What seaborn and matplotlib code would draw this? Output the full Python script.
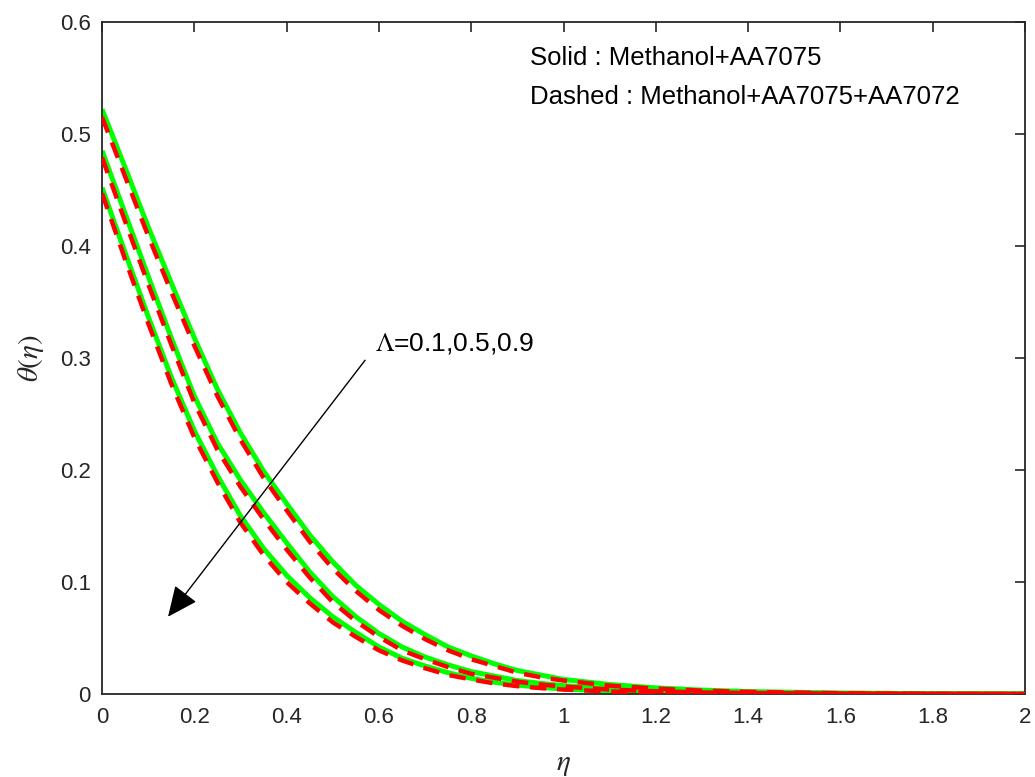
import numpy as np
import pandas as pd
import matplotlib
matplotlib.use("Agg")
import matplotlib.pyplot as plt
import seaborn as sns

eta = [0, 0.05, 0.1, 0.15, 0.2, 0.25, 0.3, 0.35, 0.4, 0.45, 0.5, 0.55, 0.6, 0.65,
       0.7, 0.75, 0.8, 0.85, 0.9, 0.95, 1.0, 1.1, 1.2, 1.3, 1.4, 1.6, 1.8, 2.0]

# Solid: Methanol+AA7075, Lambda = 0.1, 0.5, 0.9
solid_L01 = [0.522, 0.470, 0.417, 0.367, 0.318, 0.272, 0.233, 0.199, 0.170, 0.142, 0.118,
             0.097, 0.080, 0.065, 0.053, 0.042, 0.034, 0.027, 0.021, 0.017, 0.013, 0.0085,
             0.0055, 0.0035, 0.0022, 0.0009, 0.0003, 0.0]
solid_L05 = [0.485, 0.429, 0.373, 0.318, 0.266, 0.224, 0.191, 0.162, 0.135, 0.109, 0.087,
             0.069, 0.054, 0.042, 0.033, 0.026, 0.020, 0.016, 0.012, 0.0095, 0.0075, 0.0045,
             0.0027, 0.0016, 0.001, 0.0004, 0.0001, 0.0]
solid_L09 = [0.452, 0.394, 0.337, 0.283, 0.235, 0.195, 0.159, 0.130, 0.106, 0.086, 0.069,
             0.055, 0.042, 0.032, 0.025, 0.019, 0.014, 0.0105, 0.008, 0.006, 0.0045, 0.0026,
             0.0015, 0.0009, 0.0005, 0.0002, 0.0001, 0.0]

# Dashed: Methanol+AA7075+AA7072
dashed_L01 = [0.515, 0.462, 0.409, 0.359, 0.311, 0.266, 0.227, 0.193, 0.164, 0.136, 0.112,
              0.092, 0.075, 0.061, 0.049, 0.039, 0.031, 0.025, 0.019, 0.015, 0.012, 0.0075,
              0.0048, 0.003, 0.0019, 0.0007, 0.0002, 0.0]
dashed_L05 = [0.479, 0.422, 0.366, 0.312, 0.260, 0.218, 0.185, 0.156, 0.129, 0.104, 0.082,
              0.065, 0.051, 0.039, 0.031, 0.024, 0.018, 0.0145, 0.011, 0.0085, 0.0067, 0.004,
              0.0024, 0.0014, 0.0009, 0.0003, 0.0001, 0.0]
dashed_L09 = [0.447, 0.388, 0.331, 0.277, 0.229, 0.189, 0.153, 0.124, 0.100, 0.081, 0.064,
              0.051, 0.039, 0.030, 0.023, 0.017, 0.013, 0.0095, 0.007, 0.0053, 0.004, 0.0023,
              0.0013, 0.0008, 0.0004, 0.0002, 0.0001, 0.0]

x_ticks = [0, 0.2, 0.4, 0.6, 0.8, 1, 1.2, 1.4, 1.6, 1.8, 2]
x_tick_labels = ["0", "0.2", "0.4", "0.6", "0.8", "1", "1.2", "1.4", "1.6", "1.8", "2"]
y_ticks = [0, 0.1, 0.2, 0.3, 0.4, 0.5, 0.6]
y_tick_labels = ["0", "0.1", "0.2", "0.3", "0.4", "0.5", "0.6"]

sns.set_style("white")
plt.rcParams['font.family'] = ['Liberation Sans', 'DejaVu Sans']
plt.rcParams['mathtext.fontset'] = 'stix'

fig = plt.figure(figsize=(10.35, 7.77), dpi=100)
ax = fig.add_axes([0.0986, 0.1068, 0.8917, 0.8649])

solid = {"0.1": solid_L01, "0.5": solid_L05, "0.9": solid_L09}
dashed = {"0.1": dashed_L01, "0.5": dashed_L05, "0.9": dashed_L09}

for lam, vals in solid.items():
    df = pd.DataFrame({"eta": eta, "theta": vals})
    sns.lineplot(data=df, x="eta", y="theta", ax=ax, color="#00ff00", lw=3.6,
                 solid_capstyle="butt", zorder=2)
for lam, vals in dashed.items():
    df = pd.DataFrame({"eta": eta, "theta": vals})
    sns.lineplot(data=df, x="eta", y="theta", ax=ax, color="#ff0000", lw=3.2,
                 zorder=3).lines[-1].set_dashes([3.7, 2.4])

ax.set_xlim(0, 2)
ax.set_ylim(0, 0.6)
ax.set_xticks(x_ticks)
ax.set_xticklabels(x_tick_labels)
ax.set_yticks(y_ticks)
ax.set_yticklabels(y_tick_labels)
ax.tick_params(direction="in", length=7.5, width=1.2, top=True, right=True,
               labelsize=16, colors="#262626")
ax.tick_params(axis="x", pad=9)
ax.tick_params(axis="y", pad=8)
for sp in ax.spines.values():
    sp.set_visible(True)
    sp.set_color("#262626")
    sp.set_linewidth(1.3)

ax.set_xlabel(r"$\eta$", fontsize=21, labelpad=16, color="#262626")
ax.set_ylabel(r"$\theta(\eta)$", fontsize=21, labelpad=10, color="#262626")

ax.text(0.927, 0.568, "Solid : Methanol+AA7075", fontsize=18.5, va="center",
        ha="left", color="black")
ax.text(0.927, 0.533, "Dashed : Methanol+AA7075+AA7072", fontsize=18.5, va="center",
        ha="left", color="black")

ax.annotate("", xy=(0.143, 0.069), xytext=(0.570, 0.298),
            arrowprops=dict(arrowstyle="-|>,head_length=1.0,head_width=0.45",
                            mutation_scale=19, color="black", lw=1.0,
                            shrinkA=0, shrinkB=0))
ax.text(0.592, 0.313, r"$\Lambda$=0.1,0.5,0.9", fontsize=19, va="center",
        ha="left", color="black")

fig.savefig("out.png", dpi=100)
